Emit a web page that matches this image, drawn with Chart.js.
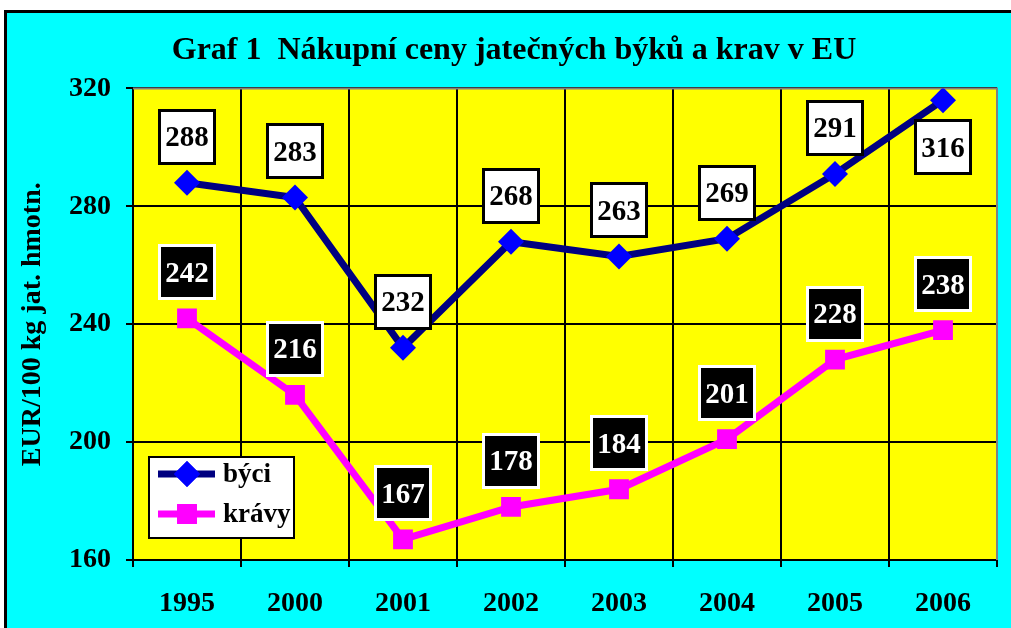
<!DOCTYPE html>
<html>
<head>
<meta charset="utf-8">
<script src="https://cdn.jsdelivr.net/npm/chart.js@4"></script>
<style>
  html, body { margin: 0; padding: 0; background: #fff; overflow: hidden; }
  #frame { position: absolute; left: 4px; top: 10px; width: 1100px; height: 700px; background: #00ffff; border: 3px solid #000; }
  #wrap { position: absolute; left: 0; top: 0; width: 1011px; height: 628px; }
</style>
</head>
<body>
<div id="frame"></div>
<div id="wrap"><canvas id="chart" width="1011" height="628"></canvas></div>
<script>
// data
const years = ['1995', '2000', '2001', '2002', '2003', '2004', '2005', '2006'];
const bulls = [288, 283, 232, 268, 263, 269, 291, 316];
const cows = [242, 216, 167, 178, 184, 201, 228, 238];
const seriesNames = ['býci', 'krávy'];
const yMin = 160;
const yMax = 320;
const yStep = 40;

const FONT = "'Liberation Serif', 'Times New Roman', serif";

// yellow plot area
const plotFill = {
  id: 'plotFill',
  beforeDraw(chart) {
    const { ctx, chartArea: a } = chart;
    ctx.save();
    ctx.fillStyle = '#ffff00';
    ctx.fillRect(a.left, a.top, a.right - a.left, a.bottom - a.top);
    ctx.restore();
  }
};

// gray top/right edge of the plot area
const plotEdge = {
  id: 'plotEdge',
  beforeDatasetsDraw(chart) {
    const { ctx, chartArea: a } = chart;
    ctx.save();
    ctx.strokeStyle = '#808080';
    ctx.lineWidth = 2;
    ctx.beginPath();
    ctx.moveTo(a.left, a.top);
    ctx.lineTo(a.right, a.top);
    ctx.lineTo(a.right, a.bottom);
    ctx.stroke();
    ctx.restore();
  }
};

// value boxes over the points
const boxLabels = {
  id: 'boxLabels',
  afterDatasetsDraw(chart) {
    const { ctx, chartArea } = chart;
    const w = 58, h = 56, off = 46;
    ctx.save();
    ctx.font = `bold 29px ${FONT}`;
    ctx.textAlign = 'center';
    ctx.textBaseline = 'middle';
    chart.data.datasets.forEach((ds, di) => {
      const meta = chart.getDatasetMeta(di);
      const fill = di === 0 ? '#ffffff' : '#000000';
      const ink = di === 0 ? '#000000' : '#ffffff';
      meta.data.forEach((pt, i) => {
        let cy = pt.y - off;
        if (cy - h / 2 < chartArea.top) cy = pt.y + off + 1;
        const x0 = Math.round(pt.x - w / 2), y0 = Math.round(cy - h / 2);
        ctx.fillStyle = fill;
        ctx.fillRect(x0, y0, w, h);
        ctx.strokeStyle = ink;
        ctx.lineWidth = 3;
        ctx.strokeRect(x0 + 1.5, y0 + 1.5, w - 3, h - 3);
        ctx.fillStyle = ink;
        ctx.fillText(String(ds.data[i]), pt.x, cy + 2);
      });
    });
    ctx.restore();
  }
};

// legend box inside the plot, bottom left
const boxLegend = {
  id: 'boxLegend',
  afterDraw(chart) {
    const { ctx } = chart;
    const x = 148, y = 456, w = 147, h = 83;
    ctx.save();
    ctx.fillStyle = '#fff';
    ctx.fillRect(x, y, w, h);
    ctx.strokeStyle = '#000';
    ctx.lineWidth = 2;
    ctx.strokeRect(x + 1, y + 1, w - 2, h - 2);
    chart.data.datasets.forEach((ds, di) => {
      const cy = y + 18 + di * 40;
      ctx.strokeStyle = ds.borderColor;
      ctx.lineWidth = ds.borderWidth;
      ctx.beginPath();
      ctx.moveTo(158, cy);
      ctx.lineTo(215, cy);
      ctx.stroke();
      ctx.fillStyle = ds.pointBackgroundColor;
      Chart.helpers.drawPoint(ctx, { pointStyle: ds.pointStyle, radius: ds.pointRadius, rotation: 0, borderWidth: 0 }, 187, cy);
      ctx.fill();
      ctx.fillStyle = '#000';
      ctx.font = `bold 27px ${FONT}`;
      ctx.textAlign = 'left';
      ctx.textBaseline = 'middle';
      ctx.fillText(ds.label, 223, cy + 1);
    });
    ctx.restore();
  }
};

new Chart(document.getElementById('chart'), {
  type: 'line',
  data: {
    labels: years,
    datasets: [
      {
        label: seriesNames[0],
        data: bulls,
        borderColor: '#000080',
        borderWidth: 7,
        pointStyle: 'rectRot',
        pointRadius: 13,
        pointBackgroundColor: '#0000ff',
        pointBorderWidth: 0,
        tension: 0
      },
      {
        label: seriesNames[1],
        data: cows,
        borderColor: '#ff00ff',
        borderWidth: 7,
        pointStyle: 'rect',
        pointRadius: 14,
        pointBackgroundColor: '#ff00ff',
        pointBorderWidth: 0,
        tension: 0
      }
    ]
  },
  options: {
    responsive: false,
    animation: false,
    // left padding pushes the title centre right, y axis width makes up for it
    layout: { padding: { left: 31, right: 14, top: 0, bottom: 0 } },
    plugins: {
      legend: { display: false },
      tooltip: { enabled: false },
      title: {
        display: true,
        text: 'Graf 1  Nákupní ceny jatečných býků a krav v EU',
        color: '#000',
        font: { family: FONT, size: 32, weight: 'bold' },
        padding: { top: 32, bottom: 18 }
      }
    },
    scales: {
      x: {
        offset: true,
        grid: { offset: true, color: '#000', lineWidth: 2, tickLength: 7, tickColor: '#000' },
        border: { color: '#000', width: 2 },
        ticks: { color: '#000', padding: 20, font: { family: FONT, size: 28, weight: 'bold' } },
        afterFit(scale) { scale.height = 68; }
      },
      y: {
        min: yMin,
        max: yMax,
        grid: { color: '#000', lineWidth: 2, tickLength: 7, tickColor: '#000' },
        border: { color: '#000', width: 2 },
        ticks: { stepSize: yStep, color: '#000', padding: 15, font: { family: FONT, size: 28, weight: 'bold' } },
        title: {
          display: true,
          text: 'EUR/100 kg jat. hmotn.',
          color: '#000',
          font: { family: FONT, size: 28, weight: 'bold' },
          padding: { top: -15, bottom: 0 }
        },
        afterFit(scale) { scale.width = 102; }
      }
    }
  },
  plugins: [plotFill, plotEdge, boxLabels, boxLegend]
});
</script>
</body>
</html>
